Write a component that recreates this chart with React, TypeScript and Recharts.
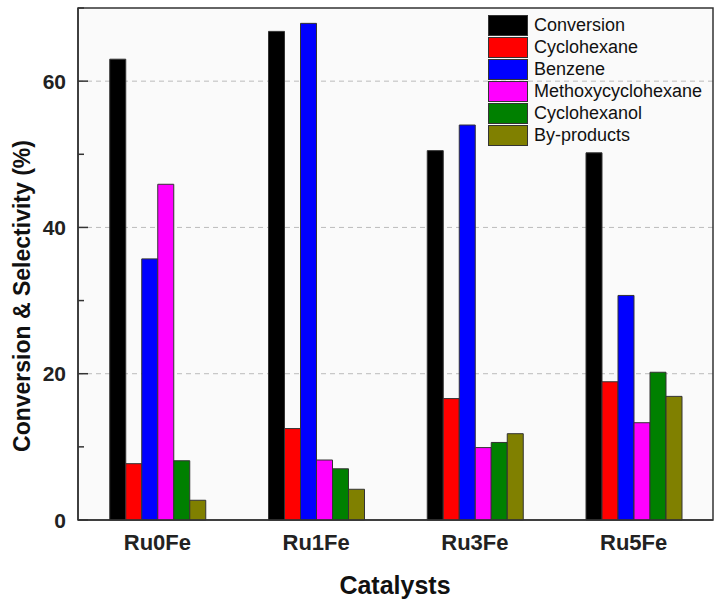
import React from 'react';
import {
  BarChart, Bar, XAxis, YAxis, CartesianGrid, Legend, Label, ReferenceArea,
} from 'recharts';

const catalysts = ['Ru0Fe', 'Ru1Fe', 'Ru3Fe', 'Ru5Fe'];
const conversion = [63.0, 66.8, 50.5, 50.2];
const cyclohexane = [7.7, 12.5, 16.6, 18.9];
const benzene = [35.7, 67.9, 54.0, 30.7];
const methoxycyclohexane = [45.9, 8.2, 9.9, 13.3];
const cyclohexanol = [8.1, 7.0, 10.6, 20.2];
const byProducts = [2.7, 4.2, 11.8, 16.9];

const yTicks = [0, 10, 20, 30, 40, 50, 60, 70];
const yLabelled = [0, 20, 40, 60];

const series = [
  { key: 'conversion', name: 'Conversion', color: '#000000' },
  { key: 'cyclohexane', name: 'Cyclohexane', color: '#ff0000' },
  { key: 'benzene', name: 'Benzene', color: '#0000ff' },
  { key: 'methoxy', name: 'Methoxycyclohexane', color: '#ff00ff' },
  { key: 'cyclohexanol', name: 'Cyclohexanol', color: '#008000' },
  { key: 'byproducts', name: 'By-products', color: '#808000' },
];

const data = catalysts.map((c, i) => ({
  name: c,
  conversion: conversion[i],
  cyclohexane: cyclohexane[i],
  benzene: benzene[i],
  methoxy: methoxycyclohexane[i],
  cyclohexanol: cyclohexanol[i],
  byproducts: byProducts[i],
}));

const FONT = '"Liberation Sans", Arial, sans-serif';

const YTick = ({ x, y, payload }: any) => {
  const major = yLabelled.includes(payload.value);
  return (
    <g>
      <line x1={x} x2={x + (major ? 10 : 6)} y1={y} y2={y} stroke="#333" strokeWidth={1.5} />
      {major && (
        <text x={x - 12} y={y} dy="0.36em" textAnchor="end"
          fontFamily={FONT} fontWeight={700} fontSize={21} fill="#222">
          {payload.value}
        </text>
      )}
    </g>
  );
};

const XTick = ({ x, y, payload }: any) => (
  <text x={x} y={y} dy={30} textAnchor="middle"
    fontFamily={FONT} fontWeight={700} fontSize={22} fill="#222">
    {payload.value}
  </text>
);

const LegendBox = () => (
  <div style={{ fontFamily: FONT, fontSize: 18, color: '#111' }}>
    {series.map((s) => (
      <div key={s.key} style={{ display: 'flex', alignItems: 'center', height: 22 }}>
        <div style={{
          width: 38, height: 19, background: s.color,
          border: '1px solid #333', marginRight: 6,
        }} />
        <span style={{ lineHeight: '22px' }}>{s.name}</span>
      </div>
    ))}
  </div>
);

export default function App() {
  return (
    <div style={{ position: 'absolute', left: 0, top: 0, background: '#fff' }}>
      <BarChart
        width={722} height={603} data={data}
        margin={{ top: 8, right: 9, bottom: 38, left: 0 }}
        barCategoryGap="20%" barGap={0}
      >
        <CartesianGrid
          vertical={false} horizontalValues={[20, 40, 60]}
          strokeDasharray="5 4" stroke="#bbb" fill="#fafafa"
        />
        <XAxis
          dataKey="name" height={45} tickLine={false} tickSize={0} tickMargin={0}
          tick={<XTick />} axisLine={{ stroke: '#333', strokeWidth: 1.5 }}
        >
          <Label
            content={() => (
              <text x={395} y={585} dy="0.36em" textAnchor="middle"
                fontFamily={FONT} fontWeight={700} fontSize={25} fill="#111">
                Catalysts
              </text>
            )}
          />
        </XAxis>
        <YAxis
          width={78} domain={[0, 70]} ticks={yTicks} interval={0}
          tickLine={false} tickSize={0} tickMargin={0} tick={<YTick />}
          axisLine={{ stroke: '#333', strokeWidth: 1.5 }}
        >
          <Label
            content={() => (
              <text x={22} y={296} dy="0.36em" textAnchor="middle"
                transform="rotate(-90, 22, 296)"
                fontFamily={FONT} fontWeight={700} fontSize={23} fill="#111">
                Conversion &amp; Selectivity (%)
              </text>
            )}
          />
        </YAxis>
        <ReferenceArea y1={0} y2={70} fill="none" stroke="#333" strokeWidth={1.5} ifOverflow="visible" />
        <Legend
          layout="vertical" align="center" verticalAlign="middle"
          content={<LegendBox />}
          wrapperStyle={{ top: 14, left: 488, width: 230 }}
        />
        {series.map((s) => (
          <Bar
            key={s.key} dataKey={s.key} name={s.name} fill={s.color}
            stroke="#333" strokeWidth={1} isAnimationActive={false}
          />
        ))}
      </BarChart>
    </div>
  );
}
